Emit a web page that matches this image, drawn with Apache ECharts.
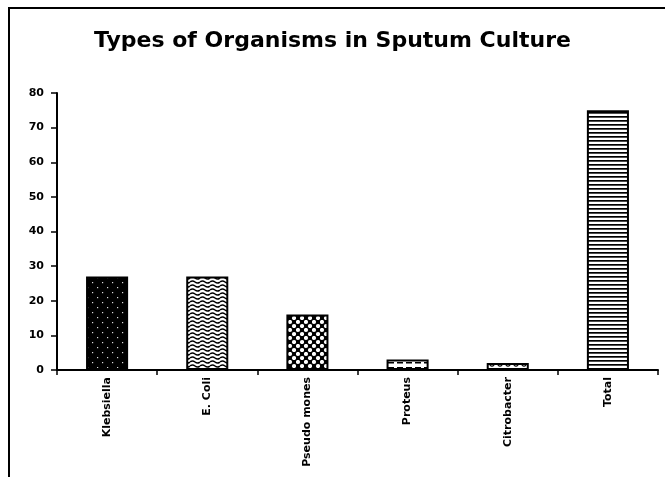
<!DOCTYPE html>
<html>
<head>
<meta charset="utf-8">
<script src="https://cdn.jsdelivr.net/npm/echarts@6/dist/echarts.min.js"></script>
<style>
html, body { margin: 0; padding: 0; background: #fff; }
#chart { width: 665px; height: 477px; }
</style>
</head>
<body>
<div id="chart"></div>
<script>
const categories = ['Klebsiella', 'E. Coli', 'Pseudo mones', 'Proteus', 'Citrobacter', 'Total'];
const counts = [27, 27, 16, 3, 2, 75];
const yTicks = [0, 10, 20, 30, 40, 50, 60, 70, 80];

// hatch patterns drawn on small canvases
function makePattern(w, h, draw) {
	const c = document.createElement('canvas');
	c.width = w;
	c.height = h;
	const ctx = c.getContext('2d');
	draw(ctx, w, h);
	return { image: c, repeat: 'repeat' };
}
const patterns = [
	makePattern(10, 10, (ctx, w, h) => {
		ctx.fillStyle = '#000';
		ctx.fillRect(0, 0, w, h);
		ctx.fillStyle = '#ddd';
		ctx.fillRect(2, 2, 1.2, 1.2);
		ctx.fillRect(7, 7, 1.2, 1.2);
	}),
	makePattern(10, 4, (ctx, w, h) => {
		ctx.fillStyle = '#fff';
		ctx.fillRect(0, 0, w, h);
		ctx.strokeStyle = '#000';
		ctx.lineWidth = 1.5;
		ctx.beginPath();
		ctx.moveTo(0, 2);
		ctx.quadraticCurveTo(2.5, 0, 5, 2);
		ctx.quadraticCurveTo(7.5, 4, 10, 2);
		ctx.stroke();
	}),
	makePattern(8, 8, (ctx, w, h) => {
		ctx.fillStyle = '#000';
		ctx.fillRect(0, 0, w, h);
		ctx.fillStyle = '#fff';
		[[2, 2], [6, 6]].forEach(([x, y]) => {
			ctx.beginPath();
			ctx.arc(x, y, 2.1, 0, Math.PI * 2);
			ctx.fill();
		});
	}),
	makePattern(9, 5, (ctx, w, h) => {
		ctx.fillStyle = '#fff';
		ctx.fillRect(0, 0, w, h);
		ctx.fillStyle = '#000';
		ctx.fillRect(1, 2, 6, 1.5);
	}),
	makePattern(8, 8, (ctx, w, h) => {
		ctx.fillStyle = '#fff';
		ctx.fillRect(0, 0, w, h);
		ctx.strokeStyle = '#000';
		ctx.lineWidth = 1.2;
		ctx.beginPath();
		ctx.arc(4, 4, 2.2, 0, Math.PI * 2);
		ctx.stroke();
	}),
	makePattern(4, 4, (ctx, w, h) => {
		ctx.fillStyle = '#fff';
		ctx.fillRect(0, 0, w, h);
		ctx.fillStyle = '#000';
		ctx.fillRect(0, 0, w, 1.7);
	}),
];

const font = 'DejaVu Sans';
const chart = echarts.init(document.getElementById('chart'));
chart.setOption({
	animation: false,
	title: {
		text: 'Types of Organisms in Sputum Culture',
		left: 'center',
		top: 25,
		textStyle: { fontFamily: font, fontWeight: 'bold', fontSize: 22, color: '#000' },
	},
	graphic: [{
		type: 'rect',
		shape: { x: 9, y: 8, width: 670, height: 480 },
		style: { fill: 'none', stroke: '#000', lineWidth: 2 },
	}],
	grid: { left: 57, right: 7, top: 93, bottom: 107 },
	xAxis: {
		type: 'category',
		data: categories,
		axisLine: { lineStyle: { color: '#000', width: 2 } },
		axisTick: { show: true, length: 5, lineStyle: { color: '#000', width: 1.5 } },
		axisLabel: {
			rotate: 90,
			margin: 7,
			color: '#000',
			fontFamily: font,
			fontWeight: 'bold',
			fontSize: 11,
		},
	},
	yAxis: {
		type: 'value',
		min: 0,
		max: yTicks[yTicks.length - 1],
		interval: yTicks[1] - yTicks[0],
		splitLine: { show: false },
		axisLine: { show: true, lineStyle: { color: '#000', width: 2 } },
		axisTick: { show: true, length: 6, lineStyle: { color: '#000', width: 1.5 } },
		axisLabel: {
			margin: 13,
			color: '#000',
			fontFamily: font,
			fontWeight: 'bold',
			fontSize: 11,
		},
	},
	series: [{
		type: 'bar',
		barWidth: '42%',
		data: counts.map((v, i) => ({
			value: v,
			itemStyle: { color: patterns[i], borderColor: '#000', borderWidth: 2 },
		})),
	}],
});
</script>
</body>
</html>
